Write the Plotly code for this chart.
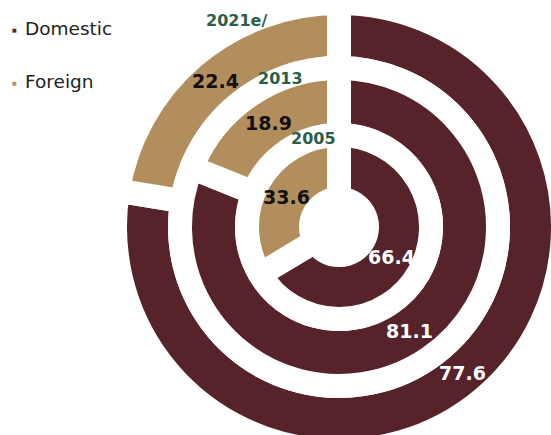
import math
import plotly.graph_objects as go

# ---- data ----
years = ["2005", "2013", "2021e/"]
series = ["Domestic", "Foreign"]
domestic = [66.4, 81.1, 77.6]
foreign = [33.6, 18.9, 22.4]

# ---- style / layout ----
W, H = 570, 460          # figure a bit larger than the 551x435 view (outer ring is cropped)
CX, CY = 339, 227        # ring centre in pixels
R_OUT = [92, 159, 224]   # pie radius (incl. half of white border)
R_IN = [28, 92, 159]
GAP = 24
COL_DOM = "#56232b"
COL_FOR = "#b28e5d"
COL_YEAR = "#2b5e4a"
FONT = "DejaVu Sans"
YEAR_POS = [(313, 138.5), (280, 78.5), (236, 21)]


def px(x):
    return x / W


def py(y):
    return 1 - y / H


fig = go.Figure()

# draw outer ring first
for i in reversed(range(len(years))):
    r = R_OUT[i]
    fig.add_trace(go.Pie(
        labels=series,
        values=[domestic[i], foreign[i]],
        name=years[i],
        sort=False,
        direction="clockwise",
        rotation=0,
        hole=R_IN[i] / r,
        marker=dict(colors=[COL_DOM, COL_FOR], line=dict(color="white", width=GAP)),
        textinfo="none",
        hoverinfo="label+value+name",
        showlegend=False,
        domain=dict(x=[(CX - r) / W, (CX + r) / W],
                    y=[(H - CY - r) / H, (H - CY + r) / H]),
    ))

annotations = []
for i in range(len(years)):
    rmid = (R_IN[i] + R_OUT[i]) / 2
    total = domestic[i] + foreign[i]
    start = 0.0
    for v, col in ((domestic[i], "white"), (foreign[i], "#111111")):
        ang = math.radians(360 * (start + v / 2) / total)
        start += v
        x = CX + rmid * math.sin(ang)
        y = CY - rmid * math.cos(ang)
        annotations.append(dict(
            x=px(x), y=py(y), xref="paper", yref="paper",
            text=f"{v:.1f}", showarrow=False,
            xanchor="center", yanchor="middle",
            font=dict(family=FONT, size=19, color=col, weight="bold"),
        ))
    yx, yy = YEAR_POS[i]
    annotations.append(dict(
        x=px(yx), y=py(yy), xref="paper", yref="paper",
        text=years[i], showarrow=False,
        xanchor="center", yanchor="middle",
        font=dict(family=FONT, size=16, color=COL_YEAR, weight="bold"),
    ))

# legend (text)
for name, col, ly in ((series[0], COL_DOM, 29), (series[1], COL_FOR, 82)):
    annotations.append(dict(
        x=px(14.5), y=py(ly + 0.5), xref="paper", yref="paper",
        text="■", showarrow=False, xanchor="center", yanchor="middle",
        font=dict(family=FONT, size=5, color=col),
    ))
    annotations.append(dict(
        x=px(23), y=py(ly), xref="paper", yref="paper",
        text=name, showarrow=False, xanchor="left", yanchor="middle",
        font=dict(family=FONT, size=18.5, color="#222222"),
    ))

fig.update_layout(
    width=W, height=H,
    margin=dict(l=0, r=0, t=0, b=0),
    paper_bgcolor="white", plot_bgcolor="white",
    showlegend=False,
    annotations=annotations,
)

fig.write_html(
    "out.html",
    post_script="document.documentElement.style.overflow='hidden';document.body.style.overflow='hidden';",
)
